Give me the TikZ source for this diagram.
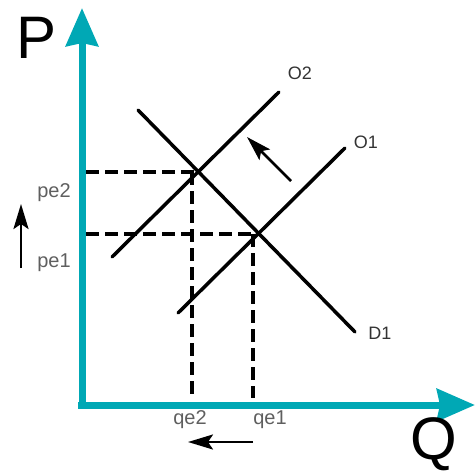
\documentclass[tikz,border=0pt]{standalone}
\usepackage{fontspec}
\setmainfont{Liberation Sans}
\usetikzlibrary{arrows.meta}
\definecolor{axisteal}{RGB}{0,168,181}
\definecolor{labelgray}{RGB}{95,95,95}

\begin{document}
\begin{tikzpicture}[x=1pt,y=-1pt,
  axis/.style={axisteal,line width=7pt,-{Stealth[length=38pt,width=32pt,inset=3pt]}},
  curve/.style={line width=3.5pt,line cap=round},
  guide/.style={line width=3.5pt,dash pattern=on 13pt off 6pt},
  shiftarrow/.style={line width=2.5pt,-{Stealth[length=25pt,width=15pt,inset=5pt]}},
  tick/.style={text=labelgray,font=\fontsize{20}{24}\selectfont},
  curvename/.style={text=black!80,font=\fontsize{18}{22}\selectfont}]
\useasboundingbox (0,0) rectangle (475,472);
\coordinate (eq2) at (198,172);
\coordinate (eq1) at (257,234);
\draw[guide] (86,172) -- (eq2);
\draw[guide] (86,234) -- (eq1);
\draw[guide] (192,172) -- (192,398);
\draw[guide] (253,234) -- (253,398);
\draw[axis] (82,409) -- (82,8);
\draw[axis] (78,405) -- (475,405);
\draw[curve] (138,110) -- (355,332);
\draw[curve] (178,313) -- (345,148);
\draw[curve] (112,257) -- (279,92);
\draw[shiftarrow] (291,181) -- (247,137);
\draw[shiftarrow] (21,268) -- (21,204);
\draw[shiftarrow] (253,442) -- (188,442);
\node (pname) at (37,38) {\fontsize{60}{60}\selectfont P};
\node (qname) at (434,444) {\fontsize{60}{60}\selectfont Q};
\node[tick] (pe2) at (54,193) {pe2};
\node[tick] (pe1) at (54,263) {pe1};
\node[tick] (qe2) at (190,420) {qe2};
\node[tick] (qe1) at (270,420) {qe1};
\node[curvename] (o2) at (300,73) {O2};
\node[curvename] (o1) at (366,142) {O1};
\node[curvename] (d1) at (380,333) {D1};
\end{tikzpicture}
\end{document}
